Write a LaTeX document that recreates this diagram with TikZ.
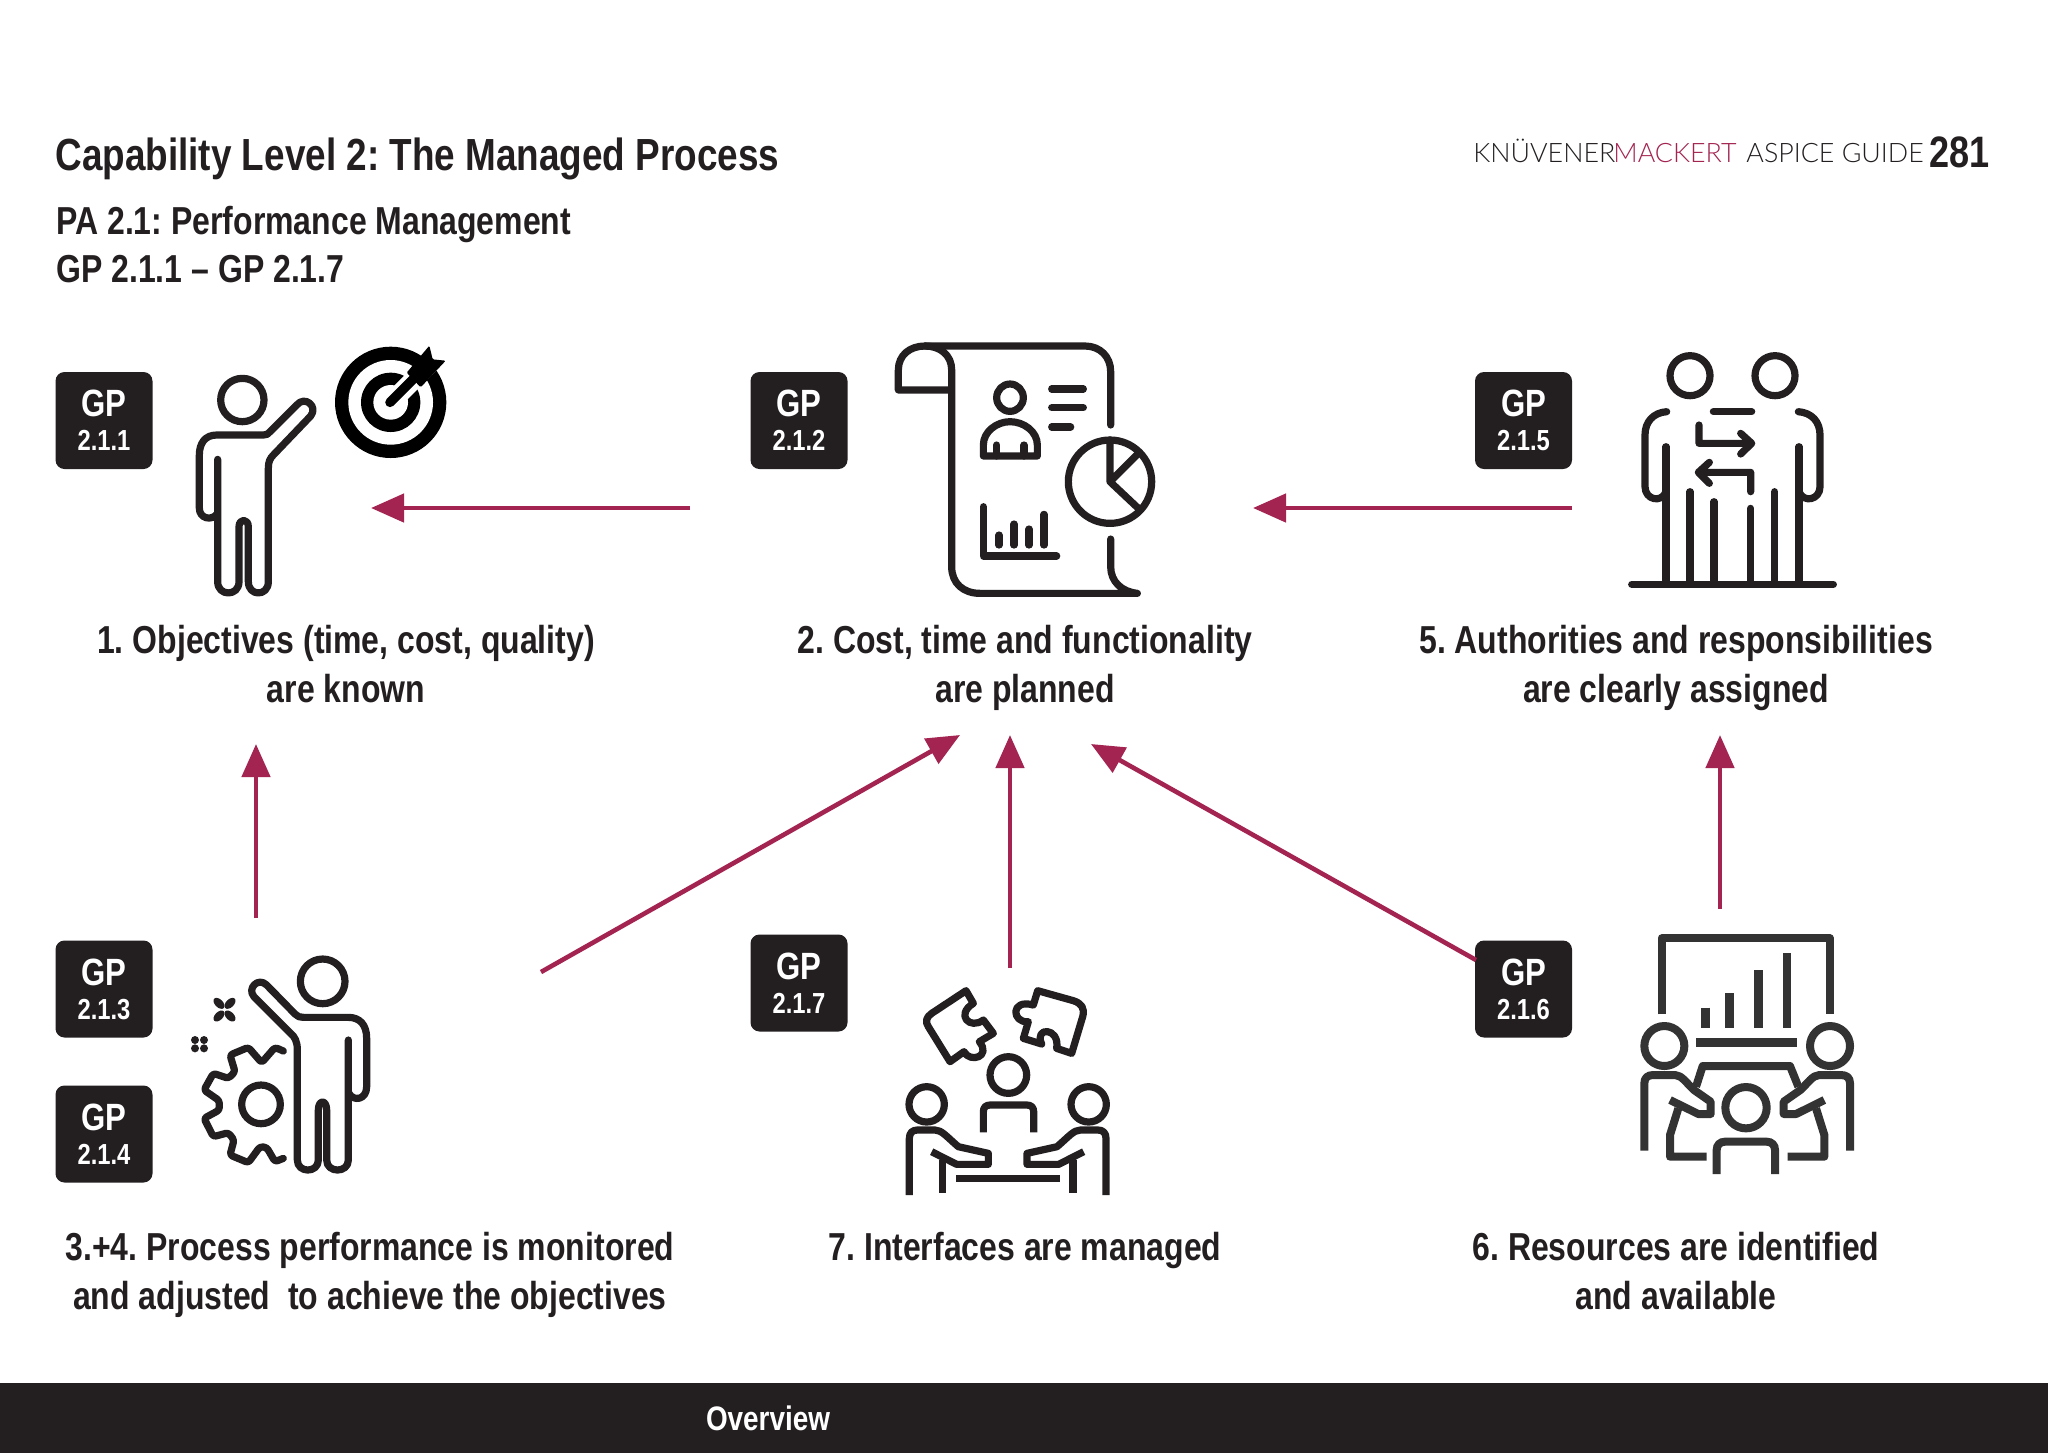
\documentclass[tikz,border=0pt]{standalone}
\usepackage{fontspec}
\usetikzlibrary{arrows.meta}
\setmainfont[FakeStretch=0.82,BoldFont={Liberation Sans Bold}]{Liberation Sans}
\newfontfamily\hdrfont{Lato Light}
\definecolor{ink}{HTML}{231F20}
\definecolor{wine}{HTML}{A32351}
\definecolor{gray6}{HTML}{333333}
\tikzset{
  titletxt/.style={font=\frenchspacing\bfseries\fontsize{22.5}{26}\selectfont,text=ink,inner sep=0pt,anchor=base west},
  subtxt/.style={font=\frenchspacing\bfseries\fontsize{19.5}{23}\selectfont,text=ink,inner sep=0pt,anchor=base west},
  captxt/.style={font=\frenchspacing\bfseries\fontsize{19.5}{24.4}\selectfont,text=ink,inner sep=0pt,align=center},
  badge/.style={fill=ink,rounded corners=4.5pt,minimum width=48.5pt,minimum height=48.5pt,inner sep=0pt,text=white,align=center,font=\bfseries},
  flow/.style={draw=wine,line width=2.3pt,-{Triangle[length=16.5pt,width=14pt]}},
  hdr/.style={font=\hdrfont\fontsize{13.4}{16}\selectfont,inner sep=0pt,anchor=base west},
  icon/.style={draw=ink,line width=3.6pt,line cap=round,line join=round,fill=none},
  zoomed/.style={shift={#1},x=0.166667pt,y=-0.166667pt},
}
\newcommand{\gptxt}[1]{{\fontsize{19}{21}\selectfont GP}\\[5pt]{\fontsize{14.5}{15}\selectfont #1}}
\newcommand{\teampath}{
  \draw[icon,line cap=butt,miter limit=2] (58,675) -- (58,505) .. controls (58,488) and (68,480) .. (82,480) -- (135,480) .. controls (155,480) and (170,500) .. (205,530) -- (295,550) -- (295,583) -- (200,583) -- (125,545);
  \draw[icon,line cap=butt] (157,570) -- (157,668);
  \draw[icon] (110,403) circle[radius=53];
}
\newcommand{\sixpath}{
  \draw[draw=gray6,line width=4pt,line join=round] (73,692) -- (73,490) .. controls (73,473) and (83,465) .. (100,465) -- (165,465) .. controls (185,465) and (200,490) .. (222,510) -- (272,545) -- (272,582) -- (235,582) -- (150,540);
  \draw[draw=gray6,line width=4pt,line join=round] (175,565) -- (150,645) -- (150,710) -- (260,710);
  \draw[draw=gray6,line width=4pt,line join=round] (133,378) circle[radius=60];
}
\begin{document}
\begin{tikzpicture}[x=0.5pt,y=-0.5pt]
\useasboundingbox (0,0) rectangle (2048,1453);
\fill[white] (0,0) rectangle (2048,1453);
% header
\node[titletxt] (title) at (55,170) {Capability Level 2: The Managed Process};
\node[subtxt] (pa) at (56,234) {PA 2.1: Performance Management};
\node[subtxt] (gp) at (56,282) {GP 2.1.1 -- GP 2.1.7};
\node[hdr,text=ink] (kn) at (1473,162) {KNÜVENER};
\node[hdr,text=wine] (mk) at (1613,162) {MACKERT};
\node[hdr,text=ink] (as) at (1746,162) {ASPICE GUIDE};
\node[font=\bfseries\fontsize{22}{24}\selectfont,text=ink,inner sep=0pt,anchor=base east] (pg) at (1990,167) {281};
% badges
\node[badge] (b211) at (104,420.5) {\gptxt{2.1.1}};
\node[badge] (b212) at (799,420.5) {\gptxt{2.1.2}};
\node[badge] (b215) at (1523.5,420.5) {\gptxt{2.1.5}};
\node[badge] (b213) at (104,989) {\gptxt{2.1.3}};
\node[badge] (b214) at (104,1134) {\gptxt{2.1.4}};
\node[badge] (b217) at (799,983) {\gptxt{2.1.7}};
\node[badge] (b216) at (1523.5,989) {\gptxt{2.1.6}};
% captions
\node[captxt] (c1) at (346,664) {1. Objectives (time, cost, quality)\\are known};
\node[captxt] (c2) at (1025,668) {2. Cost, time and functionality\\are planned};
\node[captxt] (c5) at (1676,668) {5. Authorities and responsibilities\\are clearly assigned};
\node[captxt] (c34) at (370,1275) {3.+4. Process performance is monitored\\and adjusted\ \ to achieve the objectives};
\node[captxt] (c7) at (1025,1250) {7. Interfaces are managed};
\node[captxt] (c6) at (1676,1271) {6. Resources are identified\\and available};
% footer
\fill[ink] (0,1383) rectangle (2048,1453);
\node[font=\bfseries\fontsize{17}{20}\selectfont,text=white,inner sep=0pt] (ov) at (768,1418) {Overview};
% arrows
\coordinate (a1s) at (690,508); \coordinate (a1e) at (371,508);
\coordinate (a2s) at (1572,508); \coordinate (a2e) at (1253,508);
\coordinate (a3s) at (256,918); \coordinate (a3e) at (256,744);
\coordinate (a4s) at (541,972); \coordinate (a4e) at (960,735);
\coordinate (a5s) at (1010,968); \coordinate (a5e) at (1010,735);
\coordinate (a6s) at (1476,960); \coordinate (a6e) at (1091,744);
\coordinate (a7s) at (1720,909); \coordinate (a7e) at (1720,735);
\foreach \s/\e in {a1s/a1e,a2s/a2e,a3s/a3e,a4s/a4e,a5s/a5e,a6s/a6e,a7s/a7e}{\draw[flow] (\s) -- (\e);}
% icon 1: person and target
\begin{scope}[zoomed={(40,330)}]
\draw[icon] (607,210) circle[radius=65];
\draw[icon] (533,388) -- (533,755) .. controls (533,800) and (597,800) .. (597,755) -- (597,590) .. controls (597,565) and (625,565) .. (625,590) -- (625,755) .. controls (625,800) and (685,800) .. (685,755) -- (685,415) .. controls (685,395) and (690,385) .. (700,375) -- (812,258) .. controls (835,230) and (795,195) .. (770,225) -- (690,305) .. controls (685,312) and (680,315) .. (670,315) -- (530,315) .. controls (495,315) and (478,340) .. (478,375) -- (478,535) .. controls (478,565) and (515,575) .. (533,550);
\fill[black] (1052,217) circle[radius=167];
\fill[white] (1052,217) circle[radius=127];
\fill[black] (1052,217) circle[radius=89];
\fill[white] (1052,217) circle[radius=52];
\draw[white,line width=9.5pt,line cap=butt] (1065,205) -- (1230,40);
\fill[white] (1150,20) -- (1250,20) -- (1250,110) -- (1215,130) -- (1130,60) -- cycle;
\draw[black,line width=4.8pt,line cap=round] (1050,217) -- (1130,137);
\fill[black,rounded corners=0.6pt] (1100,128) -- (1168,47) -- (1178,88) -- (1217,92) -- (1142,172) -- cycle;
\end{scope}
% icon 2: document
\begin{scope}[zoomed={(880,330)}]
\draw[icon] (215,180) -- (55,180) -- (55,120) .. controls (55,75) and (90,48) .. (135,48) .. controls (180,48) and (215,75) .. (215,120) -- (215,710) .. controls (215,760) and (250,790) .. (300,790) -- (772,790) .. controls (725,785) and (692,755) .. (692,710) -- (692,627);
\draw[icon] (135,48) -- (615,48) .. controls (660,48) and (692,80) .. (692,125) -- (692,285);
\draw[icon] (390,203) ellipse[x radius=40,y radius=41];
\draw[icon] (310,378) -- (310,345) .. controls (310,305) and (350,275) .. (390,275) .. controls (432,275) and (472,305) .. (472,345) -- (472,378) -- cycle;
\draw[icon] (350,345) -- (350,378) (432,345) -- (432,378);
\draw[icon] (515,177) -- (610,177) (515,233) -- (610,233) (515,291) -- (572,291);
\draw[icon] (690,455) circle[radius=125];
\draw[icon] (690,330) -- (690,455) -- (775,370) (690,455) -- (775,535);
\draw[icon] (310,530) -- (310,678) -- (530,678);
\draw[icon] (357,615) -- (357,645) (402,582) -- (402,645) (447,597) -- (447,645) (492,553) -- (492,645);
\end{scope}
% icon 5: two people
\begin{scope}[zoomed={(1620,340)}]
\draw[icon] (210,107) circle[radius=60] (465,107) circle[radius=60];
\draw[icon] (140,215) .. controls (100,218) and (75,245) .. (75,285) -- (75,440) .. controls (75,480) and (125,490) .. (138,455);
\draw[icon] (535,215) .. controls (575,218) and (600,245) .. (600,285) -- (600,440) .. controls (600,480) and (550,490) .. (537,455);
\draw[icon] (280,215) -- (395,215);
\draw[icon] (138,320) -- (138,733) (210,455) -- (210,733) (282,485) -- (282,733) (392,505) -- (392,733) (464,455) -- (464,733) (537,320) -- (537,733);
\draw[icon] (35,733) -- (640,733);
\draw[icon] (237,255) -- (237,310) -- (395,310) (362,280) -- (395,310) -- (362,342);
\draw[icon] (392,455) -- (392,397) -- (235,397) (268,367) -- (235,397) -- (268,430);
\end{scope}
% icon 3+4: person with gear
\begin{scope}[zoomed={(180,940)}]
\draw[icon] (428,124) circle[radius=67];
\draw[icon] (505,300) -- (505,660) .. controls (505,700) and (440,700) .. (440,660) -- (440,510) .. controls (440,478) and (415,478) .. (415,510) -- (415,660) .. controls (415,700) and (352,700) .. (352,660) -- (352,330) .. controls (352,305) and (345,290) .. (330,278) -- (222,170) .. controls (200,145) and (235,110) .. (260,135) -- (345,222) .. controls (352,230) and (360,232) .. (370,232) -- (505,232) .. controls (540,232) and (560,255) .. (560,295) -- (560,440) .. controls (560,480) and (520,485) .. (507,460);
\draw[icon,rounded corners=1.4pt] (310,333) -- (285,322) -- (245,368) -- (205,322) -- (150,345) -- (165,395) -- (145,415) -- (100,400) -- (72,450) -- (118,482) -- (118,510) -- (72,535) -- (100,590) -- (145,578) -- (162,600) -- (150,645) -- (205,668) -- (240,620) -- (260,622) -- (285,665) -- (310,655);
\draw[icon] (243,493) circle[radius=58];
\foreach \px/\py/\rot in {117/190/-45,150/190/45,117/228/45,150/228/-45}{\fill[ink,rotate around={\rot:(\px,\py)}] (\px,\py) ellipse[x radius=20,y radius=12];}
\foreach \px/\py in {45/300,72/300,45/325,72/325}{\fill[ink] (\px,\py) circle[radius=12];}
\end{scope}
% icon 7: team and puzzle
\begin{scope}[zoomed={(890,970)}]
\draw[icon,miter limit=2] (228,62) -- (125,130) .. controls (108,142) and (105,155) .. (115,170) -- (180,275) -- (222,245) .. controls (240,280) and (305,260) .. (268,215) -- (310,190) -- (280,150) .. controls (240,180) and (195,135) .. (250,100) -- cycle;
\draw[icon] (443,62) -- (550,92) .. controls (575,100) and (585,115) .. (578,140) -- (545,250) -- (500,235) .. controls (510,170) and (430,170) .. (455,222) -- (400,205) -- (415,155) .. controls (365,160) and (360,85) .. (430,105) -- cycle;
\draw[icon] (355,315) circle[radius=55];
\draw[icon,line cap=butt] (280,487) -- (280,425) .. controls (280,412) and (288,405) .. (300,405) -- (411,405) .. controls (423,405) and (431,412) .. (431,425) -- (431,487);
\draw[icon,line cap=butt] (198,625) -- (510,625);
\teampath
\begin{scope}[shift={(706,0)},xscale=-1]
\teampath
\end{scope}
\end{scope}
% icon 6: meeting with chart
\begin{scope}[zoomed={(1620,920)}]
\draw[draw=gray6,line width=4pt,line join=round] (125,283) -- (125,55) -- (630,55) -- (630,283);
\draw[draw=gray6,line width=4.2pt] (256,263) -- (256,323) (329,220) -- (329,323) (415,150) -- (415,323) (501,100) -- (501,323);
\draw[draw=gray6,line width=4.2pt] (228,368) -- (530,368);
\draw[draw=gray6,line width=4pt,line join=round] (228,500) -- (248,438) -- (510,438) -- (535,500);
\sixpath
\begin{scope}[shift={(763,0)},xscale=-1]
\sixpath
\end{scope}
\draw[draw=gray6,line width=4pt] (378,563) circle[radius=62];
\draw[draw=gray6,line width=4pt] (290,762) -- (290,690) .. controls (290,675) and (300,665) .. (315,665) -- (440,665) .. controls (455,665) and (465,675) .. (465,690) -- (465,762);
\end{scope}
\end{tikzpicture}
\end{document}
